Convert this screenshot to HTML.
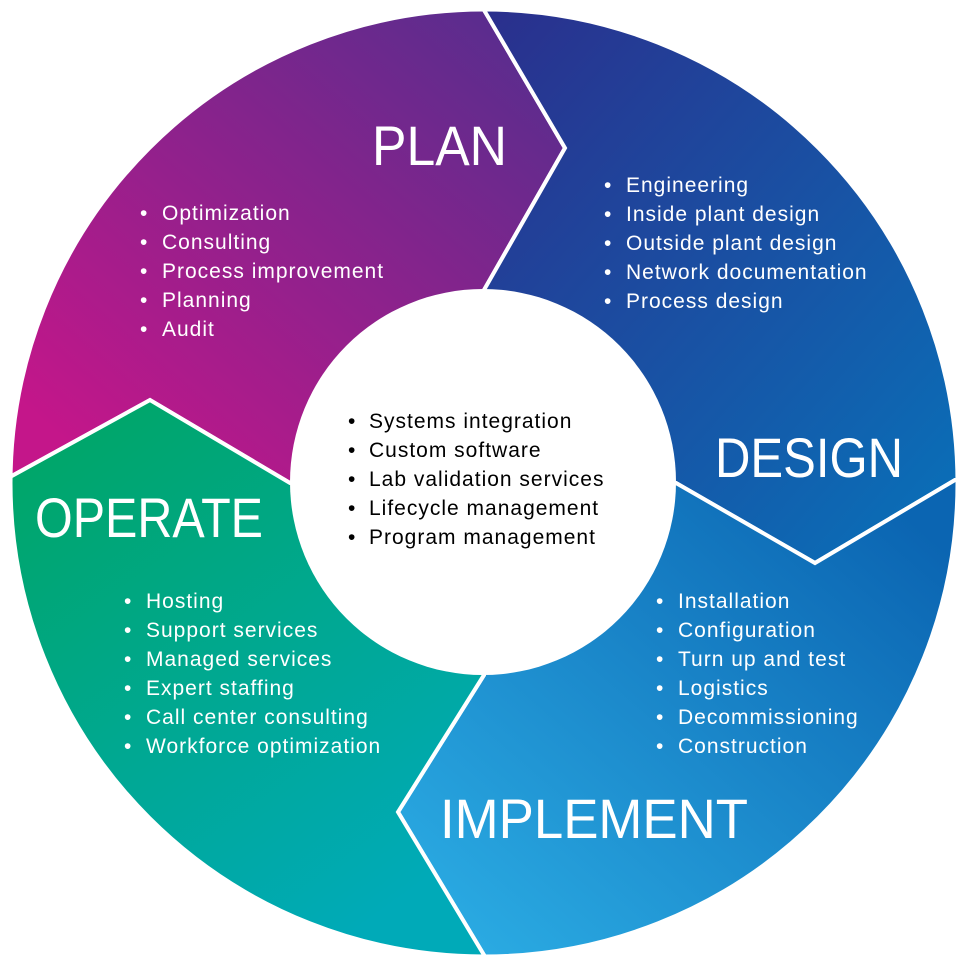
<!DOCTYPE html>
<html><head><meta charset="utf-8"><style>
html,body{margin:0;padding:0;background:#fff;}
svg{display:block;}
text{font-family:"Liberation Sans",sans-serif;}
.t{fill:#fff;font-size:56px;}
.b text{fill:#fff;font-size:21px;letter-spacing:1px;}
.k text{fill:#000;font-size:21px;letter-spacing:1px;}
</style></head><body>
<svg width="980" height="980" viewBox="0 0 980 980" xmlns="http://www.w3.org/2000/svg">
<defs>
<clipPath id="c"><circle cx="484" cy="483" r="473"/></clipPath>
<linearGradient id="gp" x1="0" y1="1" x2="1" y2="0"><stop offset="0.1" stop-color="#c4168a"/><stop offset="1" stop-color="#4f2f8e"/></linearGradient>
<linearGradient id="gd" x1="0" y1="0" x2="1" y2="1"><stop offset="0" stop-color="#2b2e8c"/><stop offset="1" stop-color="#0774bb"/></linearGradient>
<linearGradient id="gi" x1="0" y1="1" x2="1" y2="0"><stop offset="0.1" stop-color="#2aaae2"/><stop offset="0.9" stop-color="#0b65b2"/></linearGradient>
<linearGradient id="go" x1="0" y1="0" x2="0.6" y2="1"><stop offset="0" stop-color="#00a560"/><stop offset="1" stop-color="#00aab8"/></linearGradient>
</defs>
<g clip-path="url(#c)" stroke="#fff" stroke-width="4" stroke-linejoin="miter">
<polygon fill="url(#gp)" points="0,0 484,0 484,10 565,148 484,290 484,483 290,483 150,400 10,477 0,477"/>
<polygon fill="url(#gd)" points="484,0 980,0 980,480 955,480 815,563 676,483 484,483 484,290 565,148 484,10"/>
<polygon fill="url(#gi)" points="980,480 980,980 484,980 484,955 398,812 484,675 484,483 676,483 815,563 955,480"/>
<polygon fill="url(#go)" points="0,477 10,477 150,400 290,483 484,483 484,675 398,812 484,955 484,980 0,980"/>
</g>
<circle cx="484" cy="483" r="473" fill="none" stroke="#fff" stroke-width="3"/>
<circle cx="483" cy="482" r="193" fill="#fff"/>

<text class="t" x="372" y="165" textLength="135" lengthAdjust="spacingAndGlyphs">PLAN</text>
<text class="t" x="715" y="477" textLength="188" lengthAdjust="spacingAndGlyphs">DESIGN</text>
<text class="t" x="35" y="537" textLength="228" lengthAdjust="spacingAndGlyphs">OPERATE</text>
<text class="t" x="440" y="838" textLength="308" lengthAdjust="spacingAndGlyphs">IMPLEMENT</text>

<g class="b">
<text x="140" y="220">•</text><text x="162" y="220">Optimization</text>
<text x="140" y="249">•</text><text x="162" y="249">Consulting</text>
<text x="140" y="278">•</text><text x="162" y="278">Process improvement</text>
<text x="140" y="307">•</text><text x="162" y="307">Planning</text>
<text x="140" y="336">•</text><text x="162" y="336">Audit</text>

<text x="604" y="192">•</text><text x="626" y="192">Engineering</text>
<text x="604" y="221">•</text><text x="626" y="221">Inside plant design</text>
<text x="604" y="250">•</text><text x="626" y="250">Outside plant design</text>
<text x="604" y="279">•</text><text x="626" y="279">Network documentation</text>
<text x="604" y="308">•</text><text x="626" y="308">Process design</text>

<text x="124" y="608">•</text><text x="146" y="608">Hosting</text>
<text x="124" y="637">•</text><text x="146" y="637">Support services</text>
<text x="124" y="666">•</text><text x="146" y="666">Managed services</text>
<text x="124" y="695">•</text><text x="146" y="695">Expert staffing</text>
<text x="124" y="724">•</text><text x="146" y="724">Call center consulting</text>
<text x="124" y="753">•</text><text x="146" y="753">Workforce optimization</text>

<text x="656" y="608">•</text><text x="678" y="608">Installation</text>
<text x="656" y="637">•</text><text x="678" y="637">Configuration</text>
<text x="656" y="666">•</text><text x="678" y="666">Turn up and test</text>
<text x="656" y="695">•</text><text x="678" y="695">Logistics</text>
<text x="656" y="724">•</text><text x="678" y="724">Decommissioning</text>
<text x="656" y="753">•</text><text x="678" y="753">Construction</text>
</g>
<g class="k">
<text x="348" y="428">•</text><text x="369" y="428">Systems integration</text>
<text x="348" y="457">•</text><text x="369" y="457">Custom software</text>
<text x="348" y="486">•</text><text x="369" y="486">Lab validation services</text>
<text x="348" y="515">•</text><text x="369" y="515">Lifecycle management</text>
<text x="348" y="544">•</text><text x="369" y="544">Program management</text>
</g>
</svg>
</body></html>
